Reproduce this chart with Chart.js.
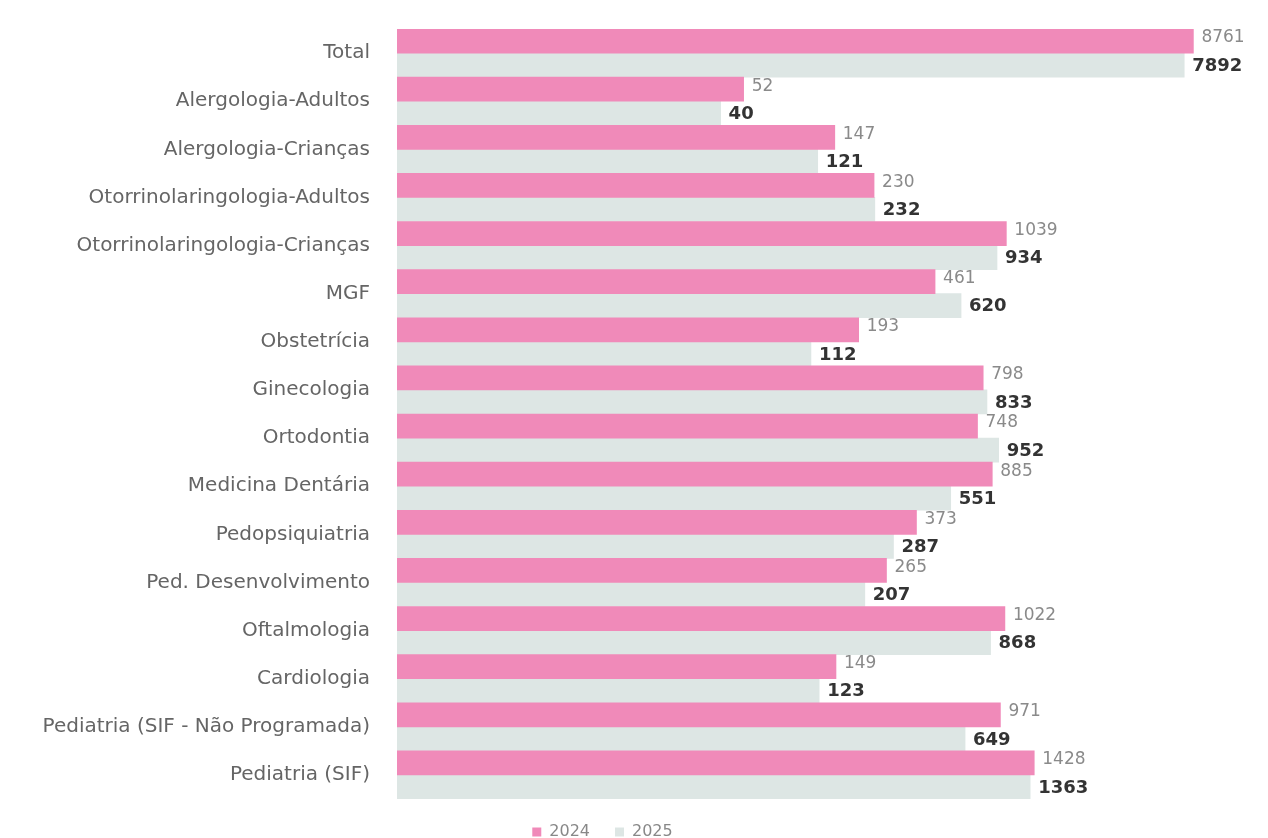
<!DOCTYPE html>
<html>
<head>
<meta charset="utf-8">
<script src="https://cdn.jsdelivr.net/npm/chart.js@4"></script>
<style>
  html, body { margin: 0; padding: 0; background: #ffffff; }
  #wrap { width: 1268px; height: 838px; }
</style>
</head>
<body>
<div id="wrap"><canvas id="myChart" width="1268" height="838"></canvas></div>
<script>
const categories = [
  "Total",
  "Alergologia-Adultos",
  "Alergologia-Crianças",
  "Otorrinolaringologia-Adultos",
  "Otorrinolaringologia-Crianças",
  "MGF",
  "Obstetrícia",
  "Ginecologia",
  "Ortodontia",
  "Medicina Dentária",
  "Pedopsiquiatria",
  "Ped. Desenvolvimento",
  "Oftalmologia",
  "Cardiologia",
  "Pediatria (SIF - Não Programada)",
  "Pediatria (SIF)"
];
const values2024 = [8761, 52, 147, 230, 1039, 461, 193, 798, 748, 885, 373, 265, 1022, 149, 971, 1428];
const values2025 = [7892, 40, 121, 232, 934, 620, 112, 833, 952, 551, 287, 207, 868, 123, 649, 1363];

const ctx = document.getElementById("myChart");

// value labels drawn at the end of each bar
const valueLabels = {
  id: "valueLabels",
  afterDatasetsDraw(chart) {
    const c = chart.ctx;
    chart.data.datasets.forEach((ds, i) => {
      const meta = chart.getDatasetMeta(i);
      meta.data.forEach((bar, j) => {
        c.save();
        c.textBaseline = "middle";
        c.textAlign = "left";
        if (i === 0) {
          c.font = "17px 'DejaVu Sans'";
          c.fillStyle = "#8a8a8a";
          c.fillText(ds.data[j], bar.x + 8, bar.y - 3);
        } else {
          c.font = "bold 18px 'DejaVu Sans'";
          c.fillStyle = "#333333";
          c.fillText(ds.data[j], bar.x + 8, bar.y + 1);
        }
        c.restore();
      });
    });
  }
};

new Chart(ctx, {
  type: "bar",
  data: {
    labels: categories,
    datasets: [
      {
        label: "2024",
        data: values2024,
        backgroundColor: "#f08ab9",
        borderWidth: 0,
        barPercentage: 1,
        categoryPercentage: 1
      },
      {
        label: "2025",
        data: values2025,
        backgroundColor: "#dde6e4",
        borderWidth: 0,
        barPercentage: 1,
        categoryPercentage: 1
      }
    ]
  },
  plugins: [valueLabels],
  options: {
    indexAxis: "y",
    responsive: false,
    maintainAspectRatio: false,
    animation: false,
    layout: {
      padding: { top: 29, right: 63, bottom: -12, left: 0 }
    },
    scales: {
      x: {
        type: "logarithmic",
        min: 1,
        max: 10000,
        display: false
      },
      y: {
        grid: { display: false, drawTicks: false },
        border: { display: false },
        ticks: {
          padding: 27,
          color: "#656565",
          font: { family: "DejaVu Sans", size: 20 }
        },
        afterFit(scale) {
          scale.width = 397;
          scale.paddingTop = 0;
          scale.paddingBottom = 0;
        }
      }
    },
    plugins: {
      legend: {
        position: "bottom",
        labels: {
          boxWidth: 9,
          boxHeight: 9,
          padding: 25,
          color: "#888888",
          font: { family: "DejaVu Sans", size: 16 }
        }
      },
      tooltip: { enabled: false }
    }
  }
});
</script>
</body>
</html>
